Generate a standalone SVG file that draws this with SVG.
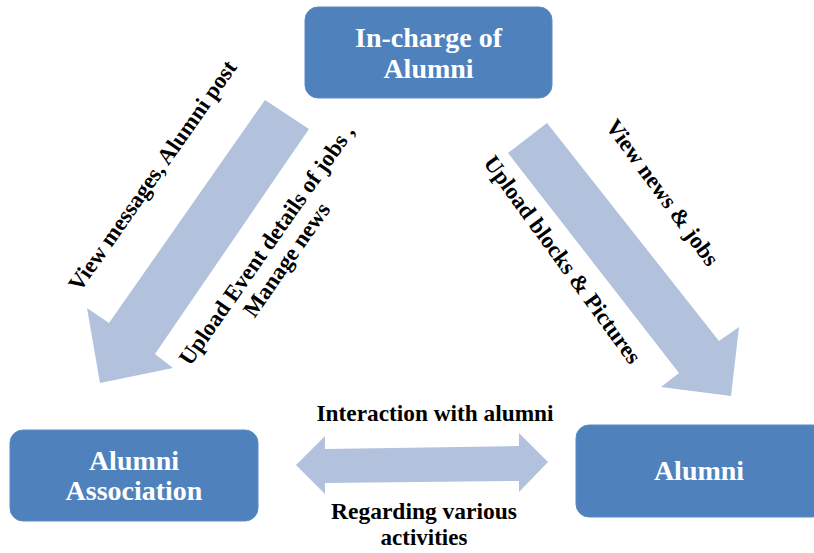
<svg xmlns="http://www.w3.org/2000/svg" width="814" height="553" viewBox="0 0 814 553">
<style>
.box{fill:#4F81BD;stroke:#5A8AC4;stroke-width:1}
.nt{font-family:"Liberation Serif","Times New Roman",serif;font-weight:bold;font-size:28px;fill:#FFFFFF;text-anchor:middle}
.lb{font-family:"Liberation Serif","Times New Roman",serif;font-weight:bold;font-size:23px;fill:#000000;text-anchor:middle}
.arr{fill:#B2C2DD}
</style>
<rect width="814" height="553" fill="#FFFFFF"/>
<g id="connectors">
<polygon class="arr" points="265,100 309,129 155,354 173,368 100,383 87,308 109,323"/>
<polygon class="arr" points="508,153 547,123 719,341 739,327 731,396 661,387 679,373"/>
<polygon class="arr" points="296,465 325,436 325,449 519,446 519,433 548,462 519,492 519,481 325,483 325,494"/>
<text class="lb" transform="translate(153,176) rotate(-55)" y="7">View messages, Alumni post</text>
<text class="lb" transform="translate(267,245) rotate(-55)" y="7">Upload Event details of jobs ,</text>
<text class="lb" transform="translate(287,260) rotate(-55)" y="7">Manage news</text>
<text class="lb" transform="translate(662,193) rotate(54)" y="7">View news &amp; jobs</text>
<text class="lb" transform="translate(562,260) rotate(54)" y="7">Upload blocks &amp; Pictures</text>
<text class="lb" x="435" y="421" textLength="237" lengthAdjust="spacingAndGlyphs">Interaction with alumni</text>
<text class="lb" x="424" y="519" textLength="186" lengthAdjust="spacingAndGlyphs">Regarding various</text>
<text class="lb" x="424" y="545">activities</text>
</g>
<g id="incharge">
<rect class="box" x="305" y="7" width="247" height="91" rx="13"/>
<text class="nt" x="428.5" y="47">In-charge of</text>
<text class="nt" x="428.5" y="78">Alumni</text>
</g>
<g id="association">
<rect class="box" x="10" y="430" width="248" height="91" rx="13"/>
<text class="nt" x="134" y="470">Alumni</text>
<text class="nt" x="134" y="500">Association</text>
</g>
<g id="alumni">
<rect class="box" x="576" y="425" width="250" height="92" rx="13"/>
<text class="nt" x="699" y="480">Alumni</text>
</g>
</svg>
